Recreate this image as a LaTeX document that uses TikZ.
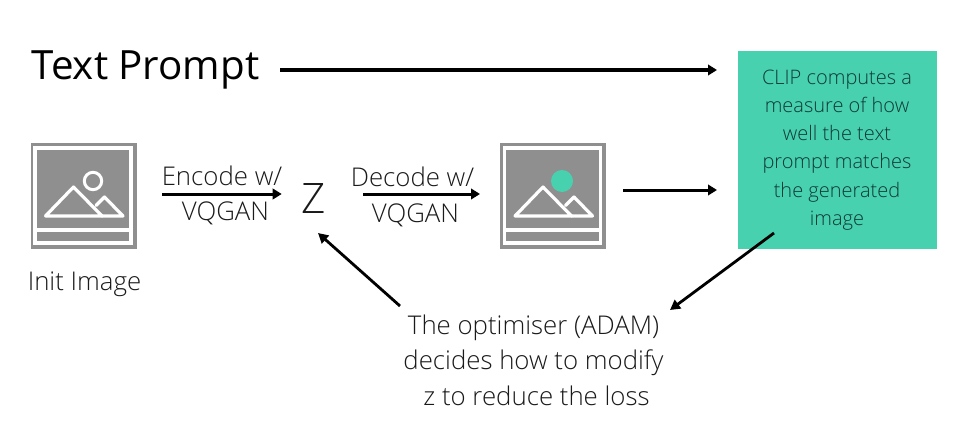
\documentclass[tikz,border=0pt]{standalone}
\usepackage{fontspec}
\setmainfont{Open Sans Light}[BoldFont={Open Sans}]
\newfontfamily\regfont{Open Sans}
\usetikzlibrary{arrows.meta}
\definecolor{teal1}{HTML}{48D1AE}
\definecolor{grey1}{HTML}{8F8F8F}
\definecolor{ink}{HTML}{1A1A1A}
\definecolor{cliptxt}{HTML}{0F3A35}
\tikzset{
  x=1pt,y=-1pt,
  arr/.style={draw=black,line width=3pt,-{Triangle[length=9pt,width=10.5pt]}},
  thinarr/.style={draw=black,line width=2.8pt,-{Triangle[length=10pt,width=10.5pt]}},
  lbl/.style={inner sep=0pt,outer sep=0pt,text=ink,font=\fontsize{25.8}{35.5}\selectfont,align=center},
  icon/.style={fill=grey1,draw=none,minimum width=106pt,minimum height=106pt,inner sep=0pt,outer sep=0pt},
  wline/.style={draw=white,line width=3.2pt,line join=round,line cap=round},
}
\newcommand{\imgicon}[1]{%
  \begin{scope}[shift={#1}]
    \draw[wline,line join=miter,line cap=butt] (-48,-48) rectangle (48,47);
    \draw[wline,line cap=butt] (-48,34) -- (48,34);
    \draw[wline] (-37.5,20) -- (-9.5,-9) -- (19,20) -- (-37.5,20);
    \draw[wline] (19,20) -- (40,20) -- (21.5,1) -- (13,9.5);
  \end{scope}}
\begin{document}
\begin{tikzpicture}
\useasboundingbox (0,0) rectangle (974,444);
\fill[white] (0,0) rectangle (974,444);

\node[icon] (init) at (84,196) {};
\imgicon{(83,196)}
\draw[draw=white,line width=3pt] (93,181) circle (8.7);
\node[icon] (gen) at (553,196) {};
\imgicon{(552.5,196)}
\fill[teal1] (562,181) circle (11);

\node[fill=teal1,minimum width=199pt,minimum height=198pt,inner sep=0pt,outer sep=0pt] (clip) at (837.5,150) {};
\node[inner sep=0pt,text=cliptxt,font=\fontsize{20}{28.2}\selectfont,align=center] (cliptext) at (837,150)
  {CLIP computes a\\measure of how\\well the text\\prompt matches\\the generated\\image};

\node[inner sep=0pt,anchor=base,text=black,font=\regfont\fontsize{40.3}{42}\selectfont] (prompt) at (145.5,80) {Text Prompt};
\node[lbl,anchor=base] (initlabel) at (84.5,290) {Init Image};
\node[lbl] (enc) at (222,195.5) {Encode w/\\\hspace*{7pt}VQGAN};
\node[lbl] (dec) at (412.5,197) {Decode w/\\\hspace*{6pt}VQGAN};
\node[inner sep=0pt,text=ink,font=\fontsize{42}{44}\selectfont] (z) at (314,198.5) {Z};
\node[lbl] (opt) at (533.5,360) {The optimiser (ADAM)\\decides how to modify\\\hspace*{6pt}z to reduce the loss};

\draw[arr,shorten <=20.5pt,shorten >=21pt] (prompt.east |- 0,70) -- (clip.west |- 0,70);
\draw[arr,shorten <=17pt,shorten >=21pt] (gen.east |- 0,190) -- (clip.west |- 0,190);
\draw[arr,shorten <=25pt,shorten >=20pt] (init.east |- 0,194) -- (z.west |- 0,194);
\draw[arr,shorten <=37pt,shorten >=20pt] (z.east |- 0,194) -- (gen.west |- 0,194);
\coordinate (clipout) at (774,233);
\coordinate (optin) at (670,310);
\coordinate (optout) at (400,306);
\coordinate (zin) at (318,233);
\draw[thinarr] (clipout) -- (optin);
\draw[thinarr] (optout) -- (zin);
\end{tikzpicture}
\end{document}
